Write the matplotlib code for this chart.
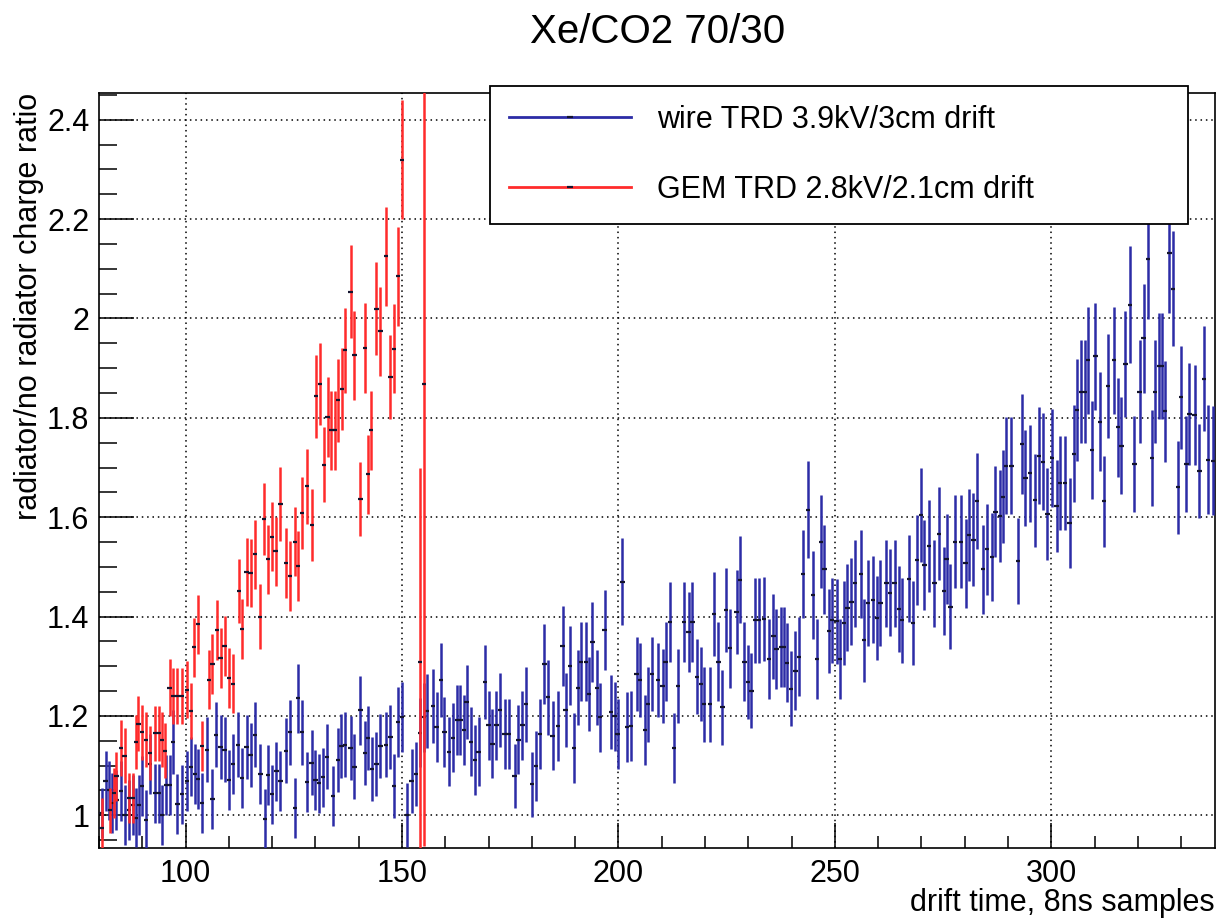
import matplotlib
matplotlib.use("Agg")
import matplotlib.pyplot as plt
from matplotlib.lines import Line2D
from matplotlib.ticker import MultipleLocator, FormatStrFormatter
import numpy as np

plt.rcParams['font.family'] = ['Liberation Sans', 'DejaVu Sans']

# wire TRD (blue) : bin centre, ratio, error
blue_x = [80.6, 81.5, 82.3, 83.1, 84.0, 85.0, 85.9, 86.9, 87.8, 88.5,
          89.2, 90.0, 90.9, 91.8, 92.9, 93.8, 94.6, 95.5, 96.3, 97.1,
          98.1, 99.1, 100.4, 101.2, 102.1, 102.9, 103.8, 105.0, 106.2, 107.1,
          108.1, 109.0, 110.0, 111.0, 112.1, 113.1, 114.1, 115.0, 116.0, 117.3,
          118.3, 119.1, 120.0, 121.0, 121.9, 123.2, 124.1, 125.2, 126.0, 126.9,
          128.1, 129.1, 130.0, 130.8, 131.8, 132.7, 134.1, 135.2, 136.0, 136.9,
          138.1, 139.0, 140.4, 141.4, 142.2, 143.1, 144.1, 145.0, 146.3, 147.3,
          148.2, 149.1, 150.0, 151.2, 152.2, 153.2,
          154.2, 155.0, 155.8, 157.1, 158.0, 159.0, 159.8, 160.8, 161.8, 162.7,
          163.5, 164.3, 164.9, 166.0, 166.8, 167.7, 169.1, 170.0, 170.9, 171.8,
          172.7, 173.7, 174.6, 176.0, 176.9, 177.8, 178.6, 180.0, 180.9, 181.9,
          182.9, 183.8, 184.8, 186.0, 187.1, 187.8, 188.8, 189.8, 190.6, 191.4,
          192.5, 193.2, 194.0, 195.0, 195.8, 196.8, 198.2, 199.1, 199.8, 200.9,
          201.9, 202.9, 204.2, 205.0, 206.2, 206.9, 207.8, 209.1, 210.2, 210.9,
          211.9, 212.9, 213.7, 215.2, 216.2, 217.1, 218.1, 219.0, 219.8, 221.2,
          222.1, 223.1, 224.0, 224.8, 225.8, 227.3, 228.1, 229.1, 230.0,
          230.7, 231.5, 232.5, 233.6, 234.8, 235.8, 236.5, 237.5, 238.3, 239.0,
          239.8, 240.9, 241.7, 242.7, 243.8, 245.0, 245.9, 246.8, 247.6, 248.6,
          249.4, 250.4, 251.2, 252.1, 252.9, 253.8, 254.6, 256.1, 256.8, 257.6,
          258.8, 259.8, 260.5, 261.9, 262.8, 263.8, 264.8, 265.5, 267.1, 268.0,
          269.0, 269.9, 270.7, 271.7, 273.0, 274.0, 275.2, 275.8, 276.7, 277.8,
          279.2, 280.2, 281.0, 282.0, 282.8, 284.2, 285.2,
          286.3, 287.1, 288.1, 288.8, 289.6, 290.8, 292.3, 293.2, 294.0, 295.0,
          296.2, 297.1, 298.1, 299.1, 300.2, 301.2, 302.0, 303.1, 304.2, 305.2,
          306.0, 306.9, 307.8, 308.5, 309.4, 310.2, 311.2, 312.2, 313.1, 314.5,
          315.4, 316.2, 317.1, 318.1, 319.2, 320.4, 321.3, 322.3, 323.2, 324.0,
          324.8, 325.6, 326.3, 327.3, 328.1, 329.2, 330.0, 331.2, 331.9, 333.1,
          334.2, 335.2, 336.2, 337.3]
blue_y = [1.005, 1.069, 1.05, 1.025, 1.03, 1.049, 1.0, 1.01, 1.02, 0.995,
          1.02, 1.059, 0.99, 1.103, 1.044, 1.044, 1.0, 1.061, 1.061, 1.147,
          1.022, 1.042, 1.069, 1.098, 1.083, 1.073, 1.025, 1.132, 1.032, 1.162,
          1.137, 1.132, 1.071, 1.103, 1.142, 1.075, 1.137, 1.121, 1.162, 1.083,
          0.992, 1.081, 1.042, 1.088, 1.069, 1.13, 1.167, 1.015, 1.235, 1.167,
          1.067, 1.106, 1.071, 1.064, 1.076, 1.118, 1.039, 1.111, 1.139, 1.142,
          1.135, 1.098, 1.211, 1.125, 1.155, 1.093, 1.103, 1.139, 1.142, 1.157,
          1.059, 1.188, 1.198, 1.0, 1.069, 1.083,
          1.166, 1.197, 1.21, 1.22, 1.177, 1.272, 1.168, 1.128, 1.156, 1.192,
          1.192, 1.172, 1.228, 1.148, 1.111, 1.128, 1.268, 1.181, 1.144, 1.181,
          1.212, 1.163, 1.163, 1.079, 1.152, 1.181, 1.223, 1.062, 1.099, 1.163,
          1.304, 1.237, 1.16, 1.18, 1.341, 1.212, 1.301, 1.135, 1.257, 1.309,
          1.309, 1.244, 1.349, 1.257, 1.197, 1.373, 1.208, 1.199, 1.163, 1.47,
          1.177, 1.18, 1.284, 1.272, 1.172, 1.223, 1.284, 1.272, 1.26, 1.309,
          1.389, 1.135, 1.26, 1.389, 1.369, 1.389, 1.279, 1.264, 1.223, 1.223,
          1.405, 1.309, 1.217, 1.413, 1.336, 1.409, 1.474, 1.309, 1.268,
          1.251, 1.392, 1.392, 1.395, 1.314, 1.36, 1.335, 1.339, 1.339, 1.307,
          1.255, 1.291, 1.319, 1.486, 1.615, 1.443, 1.314, 1.551, 1.495, 1.371,
          1.392, 1.39, 1.314, 1.387, 1.418, 1.43, 1.467, 1.486, 1.352, 1.427,
          1.434, 1.397, 1.427, 1.467, 1.448, 1.467, 1.415, 1.392, 1.476, 1.387,
          1.514, 1.604, 1.504, 1.542, 1.467, 1.567, 1.451, 1.516, 1.42, 1.551,
          1.551, 1.507, 1.564, 1.555, 1.632, 1.495, 1.535,
          1.52, 1.611, 1.602, 1.641, 1.704, 1.704, 1.512, 1.747, 1.679, 1.688,
          1.634, 1.724, 1.712, 1.606, 1.719, 1.623, 1.669, 1.669, 1.588, 1.728,
          1.816, 1.853, 1.853, 1.916, 1.735, 1.924, 1.792, 1.632, 1.864, 1.916,
          1.781, 1.744, 1.909, 2.028, 1.707, 1.853, 1.96, 2.119, 1.719, 1.853,
          1.904, 1.904, 1.813, 2.132, 2.06, 1.66, 1.841, 1.707, 1.808, 1.806,
          1.693, 1.879, 1.716, 1.714]
blue_err = [0.05, 0.06, 0.06, 0.06, 0.06, 0.06, 0.06, 0.06, 0.06, 0.06,
            0.06, 0.06, 0.06, 0.06, 0.06, 0.06, 0.06, 0.06, 0.06, 0.065,
            0.06, 0.06, 0.06, 0.06, 0.06, 0.06, 0.06, 0.065, 0.06, 0.065,
            0.065, 0.065, 0.06, 0.06, 0.065, 0.06, 0.065, 0.065, 0.065, 0.06,
            0.06, 0.06, 0.06, 0.06, 0.06, 0.065, 0.065, 0.06, 0.07, 0.065,
            0.06, 0.065, 0.06, 0.06, 0.06, 0.065, 0.06, 0.065, 0.065, 0.065,
            0.065, 0.065, 0.07, 0.065, 0.065, 0.065, 0.065, 0.065, 0.065, 0.065,
            0.065, 0.07, 0.07, 0.065, 0.065, 0.065,
            0.07, 0.07, 0.075, 0.075, 0.07, 0.075, 0.07, 0.07, 0.07, 0.07,
            0.07, 0.07, 0.075, 0.07, 0.07, 0.07, 0.075, 0.07, 0.07, 0.07,
            0.075, 0.07, 0.07, 0.065, 0.07, 0.07, 0.075, 0.065, 0.07, 0.07,
            0.08, 0.075, 0.07, 0.07, 0.08, 0.075, 0.08, 0.07, 0.075, 0.08,
            0.08, 0.075, 0.08, 0.075, 0.07, 0.08, 0.075, 0.07, 0.07, 0.088,
            0.07, 0.07, 0.075, 0.075, 0.07, 0.075, 0.075, 0.075, 0.075, 0.08,
            0.08, 0.07, 0.075, 0.08, 0.08, 0.08, 0.075, 0.075, 0.075, 0.075,
            0.085, 0.08, 0.075, 0.085, 0.08, 0.085, 0.088, 0.08, 0.075,
            0.075, 0.085, 0.085, 0.085, 0.08, 0.085, 0.08, 0.08, 0.08, 0.08,
            0.075, 0.08, 0.08, 0.089, 0.098, 0.088, 0.08, 0.093, 0.09, 0.085,
            0.085, 0.085, 0.08, 0.085, 0.087, 0.087, 0.088, 0.089, 0.083, 0.087,
            0.087, 0.085, 0.087, 0.088, 0.088, 0.088, 0.086, 0.085, 0.088, 0.085,
            0.09, 0.095, 0.09, 0.092, 0.088, 0.093, 0.088, 0.09, 0.086, 0.093,
            0.093, 0.09, 0.093, 0.093, 0.097, 0.09, 0.092,
            0.088, 0.092, 0.092, 0.094, 0.097, 0.097, 0.086, 0.1, 0.096, 0.097,
            0.094, 0.098, 0.098, 0.092, 0.098, 0.093, 0.095, 0.095, 0.09, 0.098,
            0.102, 0.104, 0.104, 0.108, 0.098, 0.108, 0.1, 0.092, 0.105, 0.108,
            0.1, 0.098, 0.107, 0.118, 0.096, 0.104, 0.11, 0.12, 0.097, 0.104,
            0.107, 0.107, 0.102, 0.12, 0.116, 0.094, 0.103, 0.096, 0.102, 0.101,
            0.095, 0.105, 0.11, 0.11]

# GEM TRD (red)
red_x = [80.6, 82.5, 83.5, 84.0, 85.0, 85.9, 86.9, 87.8, 88.5, 89.1,
         90.0, 90.8, 91.8, 92.9, 93.8, 94.6, 95.2, 96.3, 97.1, 98.1,
         99.1, 100.4, 101.2, 101.9, 102.9, 103.8, 105.4, 106.2, 107.2, 108.1,
         109.0, 110.0, 111.0, 112.3, 113.1, 114.1, 115.0, 116.0, 117.2, 118.1,
         119.1, 120.0, 120.8, 121.9, 123.2, 124.1, 125.2, 126.0, 126.9, 128.1,
         129.2, 130.2, 131.0, 131.9, 132.8, 133.7, 134.5, 135.2, 136.2, 136.9,
         138.1, 139.0, 140.4, 141.4, 142.2, 142.9, 144.1, 145.0, 146.3, 147.3,
         148.2, 149.1, 150.0, 154.2, 155.0]
red_y = [0.975, 1.01, 1.044, 1.078, 1.135, 1.12, 1.035, 1.035, 1.147, 1.184,
         1.167, 1.152, 1.125, 1.165, 1.165, 1.152, 1.13, 1.257, 1.24, 1.24,
         1.24, 1.253, 1.21, 1.338, 1.384, 1.139, 1.273, 1.304, 1.373, 1.316,
         1.341, 1.276, 1.265, 1.451, 1.375, 1.49, 1.488, 1.525, 1.40, 1.596,
         1.515, 1.561, 1.531, 1.627, 1.508, 1.482, 1.551, 1.502, 1.608, 1.662,
         1.584, 1.843, 1.868, 1.706, 1.802, 1.775, 1.775, 1.835, 1.858, 1.936,
         2.054, 1.926, 1.637, 1.941, 1.686, 1.775, 2.02, 1.974, 2.125, 1.882,
         1.939, 2.085, 2.32, 1.309, 1.868]
red_err = [0.06, 0.045, 0.05, 0.05, 0.056, 0.055, 0.05, 0.05, 0.055, 0.055,
           0.055, 0.055, 0.055, 0.055, 0.055, 0.055, 0.055, 0.057, 0.057, 0.057,
           0.057, 0.057, 0.057, 0.06, 0.06, 0.05, 0.06, 0.06, 0.06, 0.06,
           0.06, 0.06, 0.06, 0.065, 0.06, 0.069, 0.069, 0.07, 0.065, 0.072,
           0.07, 0.07, 0.07, 0.075, 0.07, 0.07, 0.07, 0.07, 0.072, 0.075,
           0.072, 0.083, 0.083, 0.075, 0.08, 0.08, 0.08, 0.083, 0.083, 0.085,
           0.093, 0.09, 0.075, 0.09, 0.08, 0.08, 0.093, 0.09, 0.1, 0.085,
           0.09, 0.1, 0.12, 0.39, 0.93]

blue_col = '#2c2ca6'
red_col = '#ff2b2b'
mark_col = '#14142e'

fig = plt.figure(figsize=(12.24, 9.19), dpi=100)
ax = fig.add_axes([0.0809, 0.0773, 0.9117, 0.8215])

ax.errorbar(blue_x, blue_y, yerr=blue_err, fmt='none', ecolor=blue_col,
            elinewidth=1.8, capsize=0, zorder=3)
ax.errorbar(blue_x, blue_y, xerr=0.5, fmt='none', ecolor=mark_col,
            elinewidth=1.6, capsize=0, zorder=3.1)
ax.errorbar(red_x, red_y, yerr=red_err, fmt='none', ecolor=red_col,
            elinewidth=1.8, capsize=0, zorder=4)
ax.errorbar(red_x, red_y, xerr=0.5, fmt='none', ecolor=mark_col,
            elinewidth=1.6, capsize=0, zorder=4.1)

ax.set_xlim(80, 337.8)
ax.set_ylim(0.934, 2.454)

ax.xaxis.set_major_locator(MultipleLocator(50))
ax.xaxis.set_minor_locator(MultipleLocator(10))
ax.yaxis.set_major_locator(MultipleLocator(0.2))
ax.yaxis.set_minor_locator(MultipleLocator(0.05))
ax.yaxis.set_major_formatter(FormatStrFormatter('%g'))

ax.tick_params(axis='both', which='both', direction='in', width=1.1,
               labelsize=22, top=False, right=False)
ax.tick_params(axis='x', which='major', length=18, pad=8)
ax.tick_params(axis='x', which='minor', length=9)
ax.tick_params(axis='y', which='major', length=25, pad=7)
ax.tick_params(axis='y', which='minor', length=13)
for s in ax.spines.values():
    s.set_linewidth(1.2)

ax.grid(True, which='major', color='black', linestyle=(0, (1, 2.5)), linewidth=1.1)
ax.set_axisbelow(True)

fig.text(0.537, 0.965, 'Xe/CO2 70/30', ha='center', va='center', fontsize=29)
fig.text(0.9926, 0.034, 'drift time, 8ns samples', ha='right', va='top', fontsize=22)
fig.text(0.024, 0.8988, 'radiator/no radiator charge ratio', rotation=90,
         ha='center', va='top', fontsize=22)

handles = [Line2D([0], [0], color=blue_col, lw=2, marker='_', ms=5, mew=1.6,
                  mec=mark_col),
           Line2D([0], [0], color=red_col, lw=2, marker='_', ms=5, mew=1.6,
                  mec=mark_col)]
leg = ax.legend(handles, ['wire TRD 3.9kV/3cm drift', 'GEM TRD 2.8kV/2.1cm drift'],
                bbox_to_anchor=(490 / 1224, 1 - 223 / 919, 698 / 1224, 137 / 919),
                bbox_transform=fig.transFigure, loc='upper left', mode='expand',
                borderaxespad=0, fontsize=22, borderpad=0.62, labelspacing=1.3,
                handlelength=4.0, handletextpad=0.85, fancybox=False, framealpha=1)
leg.get_frame().set_edgecolor('black')
leg.get_frame().set_linewidth(1.3)
leg.set_zorder(10)

fig.savefig('out.png', dpi=100)
